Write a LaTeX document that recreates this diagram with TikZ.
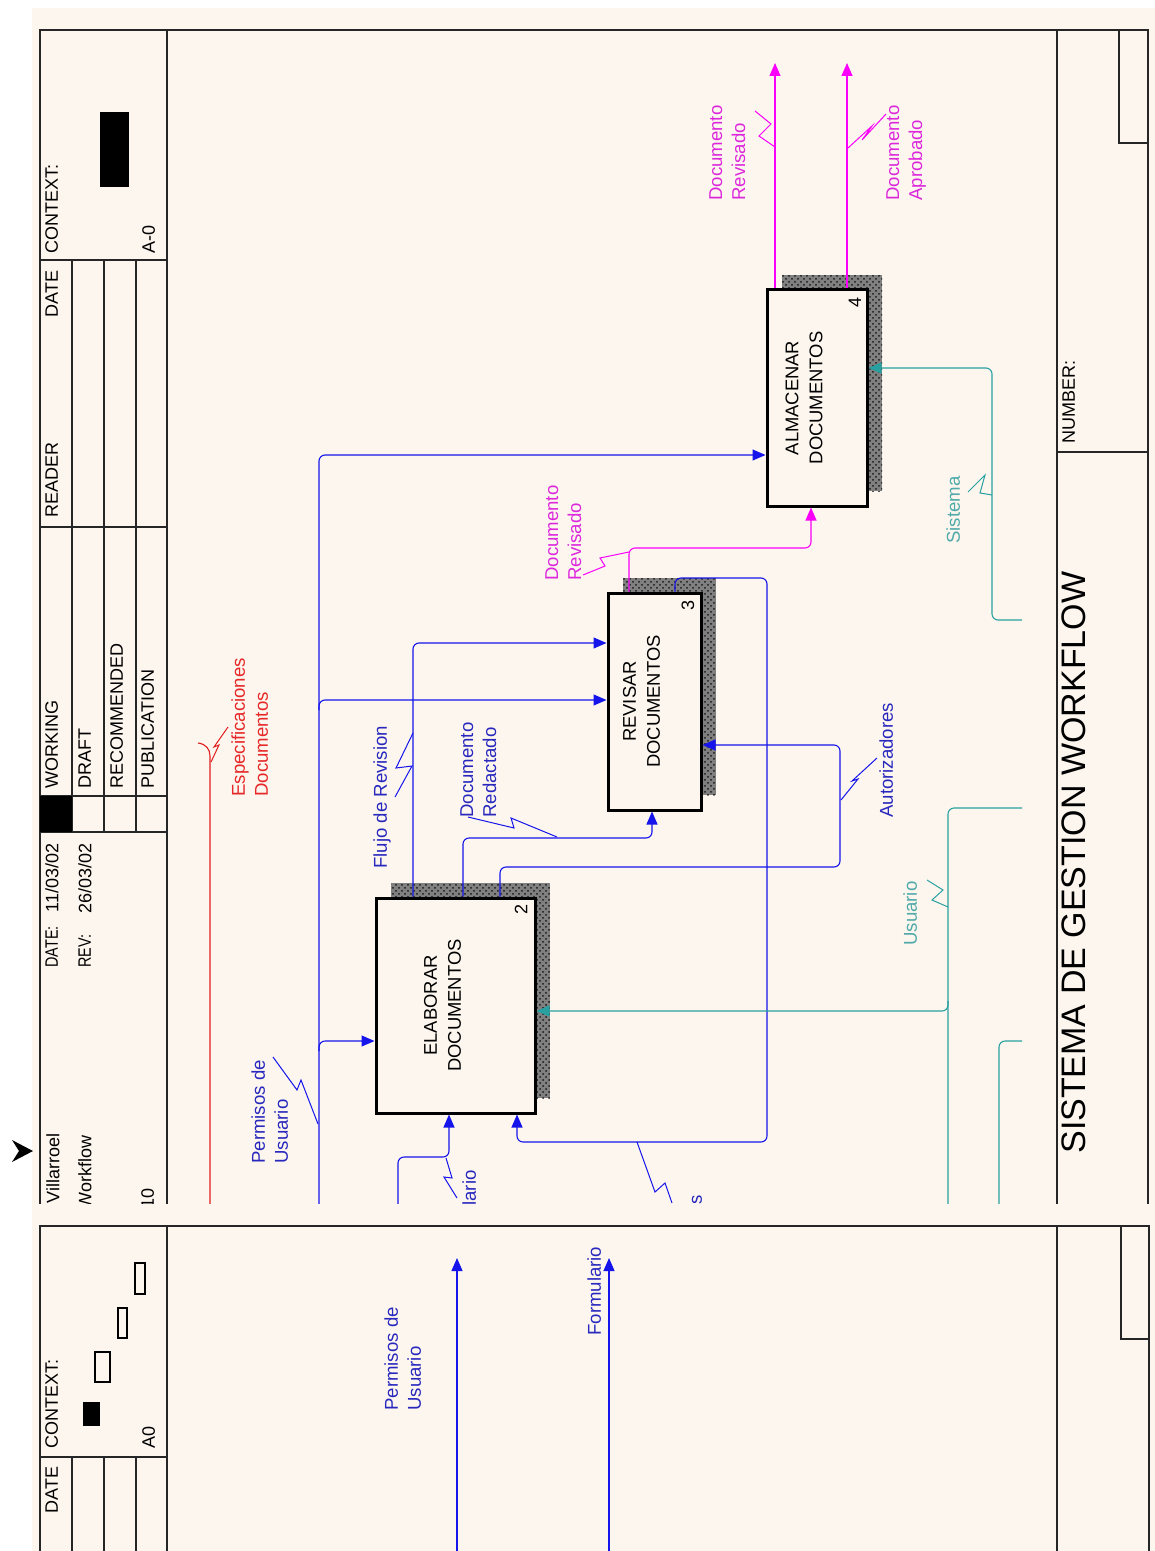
\documentclass[tikz,border=0pt]{standalone}
\usepackage{fontspec}
\setmainfont{Liberation Sans}
\usetikzlibrary{arrows.meta,patterns}

\definecolor{paper}{RGB}{253,246,238}
\definecolor{idblue}{RGB}{20,20,235}
\definecolor{idbluetxt}{RGB}{40,40,190}
\definecolor{idteal}{RGB}{40,160,160}
\definecolor{idtealtxt}{RGB}{80,170,170}
\definecolor{idmag}{RGB}{250,0,250}
\definecolor{idmagtxt}{RGB}{220,40,220}
\definecolor{idred}{RGB}{225,30,30}
\definecolor{idredtxt}{RGB}{230,40,40}

\tikzset{
  frameline/.style={line width=0.7pt, draw=black!85},
  hdr/.style={rotate=90, inner sep=0pt, font=\fontsize{9}{10.5}\selectfont, anchor=north west},
  lbl/.style={rotate=90, inner sep=0pt, font=\fontsize{9.3}{11.5}\selectfont, align=left, anchor=north west},
  procbox/.style={draw=black, line width=1.5pt, fill=paper, inner sep=0pt},
  boxtext/.style={rotate=90, align=center, font=\fontsize{9.2}{12}\selectfont, inner sep=0pt},
  boxnum/.style={rotate=90, font=\fontsize{9}{10}\selectfont, inner sep=0pt},
  flow/.style={line width=0.55pt, rounded corners=3pt},
  arrowed/.style={-{Triangle[length=6.5pt,width=5.5pt]}},
  squig/.style={line width=0.5pt},
  shadowfill/.style={fill=black!50},
  shadowdots/.style={pattern=crosshatch dots, pattern color=black!90},
}
\newcommand{\narrow}[1]{\scalebox{0.8}[1]{#1}}

\begin{document}
\begin{tikzpicture}[x=0.5pt,y=-0.5pt]
\useasboundingbox (0,0) rectangle (1155,1551);
\fill[white] (0,0) rectangle (1155,1551);
\fill[paper] (32,8) rectangle (1155,1551);

% marker in the left margin
\fill[black] (12,1140) -- (33,1151) -- (12,1162) -- (19,1151) -- cycle;

% ================= upper sheet =================
\begin{scope}
\clip (32,8) rectangle (1155,1203);

% form frame
\draw[frameline] (40,1220) -- (40,30) -- (1148,30) -- (1148,1220);
\draw[frameline] (167,30) -- (167,1220);
\draw[frameline] (1057,30) -- (1057,1220);
% header rules
\draw[frameline] (40,260) -- (167,260);
\draw[frameline] (40,527) -- (167,527);
\draw[frameline] (40,796) -- (167,796);
\draw[frameline] (40,832) -- (167,832);
\foreach \cx in {72,104,136} \draw[frameline] (\cx,260) -- (\cx,832);
\fill[black] (40,796) rectangle (72,832);
\fill[black] (100,112) rectangle (129,187);
% footer rules
\draw[frameline] (1057,452) -- (1148,452);
\draw[frameline] (1119,30) -- (1119,143) -- (1148,143);

% header texts
\node[hdr] (hctx) at (45,254) {CONTEXT:};
\node[hdr] (ha0) at (142,254) {A-0};
\node[hdr] (hdate) at (45,318) {DATE};
\node[hdr] (hreader) at (45,518) {READER};
\node[hdr] (hwork) at (45,789) {WORKING};
\node[hdr] (hdraft) at (78,789) {DRAFT};
\node[hdr] (hrec) at (110,789) {RECOMMENDED};
\node[hdr] (hpub) at (141,789) {PUBLICATION};
\node[hdr] (hdl) at (45,968) {\narrow{DATE:}};
\node[hdr, anchor=north east] (hdv) at (45,843) {11/03/02};
\node[hdr] (hrl) at (78,968) {\narrow{REV:}};
\node[hdr, anchor=north east] (hrv) at (78,843) {26/03/02};
\node[hdr, anchor=north east] (hauth) at (46,1133) {Villarroel};
\node[hdr, anchor=north east] (hproj) at (78,1135) {Workflow};
\node[hdr, anchor=north east] (hnotes) at (141,1188) {NOTES:\ \ 1\ \ 2\ \ 3\ \ 4\ \ 5\ \ 6\ \ 7\ \ 8\ \ 9\ \ 10};
\node[hdr] (hnum) at (1062,444) {NUMBER:};
\node[rotate=90, inner sep=0pt, anchor=north west, font=\fontsize{17}{20}\selectfont] (title) at (1061,1154) {SISTEMA DE GESTION WORKFLOW};

% activity shadows
\foreach \a/\b/\c/\d in {391/883/550/1098, 623/578/716/795, 782/275/882/491}{
  \fill[shadowfill] (\a,\b) rectangle (\c,\d);
  \fill[shadowdots] (\a,\b) rectangle (\c,\d);
}

% activities
\node[procbox, minimum width=79.5pt, minimum height=107.5pt] (b2) at (455.5,1005.5) {};
\node[procbox, minimum width=46.5pt, minimum height=108.5pt] (b3) at (654.5,701.5) {};
\node[procbox, minimum width=50pt, minimum height=108pt] (b4) at (817,398) {};
\node[boxtext] (b2t) at ([xshift=-6.5pt]b2.center) {ELABORAR\\DOCUMENTOS};
\node[boxtext] (b3t) at ([xshift=-6.5pt]b3.center) {REVISAR\\DOCUMENTOS};
\node[boxtext] (b4t) at ([xshift=-6.5pt]b4.center) {ALMACENAR\\DOCUMENTOS};
\node[boxnum] (b2n) at (521,909) {2};
\node[boxnum] (b3n) at (688,605) {3};
\node[boxnum] (b4n) at (855,302) {4};

% ---- controls (blue)
\coordinate (puS) at (319,1215);
\coordinate (pu4) at (319,455);
\coordinate (pu2) at (319,1041);
\coordinate (pu3) at (319,700);
\draw[flow, idblue, arrowed] (puS) |- (b4.west |- pu4);
\draw[flow, idblue, arrowed] ([yshift=-5pt]pu2) -- (pu2) -- (b2.west |- pu2);
\draw[flow, idblue, arrowed] ([yshift=-5pt]pu3) -- (pu3) -- (b3.west |- pu3);

\coordinate (fr) at (413,643);
\draw[flow, idblue, arrowed] (b2.north -| fr) |- (b3.west |- fr);

\coordinate (dr) at (463,838);
\coordinate (dr2) at (652,838);
\draw[flow, idblue, arrowed] (b2.north -| dr) -- (dr) -- (dr2) -- (b3.south -| dr2);

\coordinate (au1) at (500,867);
\coordinate (au2) at (840,867);
\coordinate (au3) at (840,745);
\draw[flow, idblue, arrowed] (b2.north -| au1) -- (au1) -- (au2) -- (au3) -- (b3.east |- au3);

\coordinate (fb1) at (675,578);
\coordinate (fb2) at (767,578);
\coordinate (fb3) at (767,1142);
\coordinate (fb4) at (517,1142);
\draw[flow, idblue, arrowed] (b3.north -| fb1) -- (fb1) -- (fb2) -- (fb3) -- (fb4) -- (b2.south -| fb4);

\coordinate (foS) at (398,1215);
\coordinate (fo1) at (398,1157);
\coordinate (fo2) at (449,1157);
\draw[flow, idblue, arrowed] (foS) -- (fo1) -- (fo2) -- (b2.south -| fo2);

% ---- mechanisms (teal)
\coordinate (usE) at (1022,808);
\coordinate (us1) at (948,808);
\coordinate (usS) at (948,1215);
\coordinate (us2) at (948,1011);
\draw[flow, idteal] (usE) -- (us1) -- (usS);
\draw[flow, idteal, arrowed] ([yshift=5pt]us2) -- (us2) -- (b2.east |- us2);

\coordinate (t2E) at (1022,1041);
\coordinate (t2a) at (999,1041);
\coordinate (t2S) at (999,1215);
\draw[flow, idteal] (t2E) -- (t2a) -- (t2S);

\coordinate (siE) at (1022,620);
\coordinate (si1) at (992,620);
\coordinate (si2) at (992,368);
\draw[flow, idteal, arrowed] (siE) -- (si1) -- (si2) -- (b4.east |- si2);

% ---- outputs (magenta)
\coordinate (mr1) at (629,548);
\coordinate (mr2) at (811,548);
\draw[flow, idmag, arrowed] (b3.north -| mr1) -- (mr1) -- (mr2) -- (b4.south -| mr2);
\coordinate (mo1) at (775,63);
\coordinate (mo2) at (847,63);
\draw[flow, idmag, arrowed] (b4.north -| mo1) -- (mo1);
\draw[flow, idmag, arrowed] (b4.north -| mo2) -- (mo2);

% ---- tunnelled input (red)
\coordinate (rdS) at (210,1215);
\coordinate (rdT) at (210,756);
\draw[idred, line width=0.55pt] (rdS) -- (rdT) .. controls (210,749) and (206,744) .. (198,743);

% ---- labels and squiggles
\node[lbl, text=idbluetxt] (lpu) at (251,1164) {Permisos de\\Usuario};
\draw[squig, idblue] (273,1057) -- (297,1090) -- (301,1080) -- (318,1124);

\node[lbl, text=idbluetxt] (lfr) at (373,869) {Flujo de Revision};
\draw[squig, idblue] (395,797) -- (412,766) -- (396,768) -- (413,733);

\node[lbl, text=idbluetxt] (ldr) at (460,818) {Documento\\Redactado};
\draw[squig, idblue] (468,817) -- (514,828) -- (511,818) -- (557,837);

\node[lbl, text=idbluetxt] (lau) at (879,818) {Autorizadores};
\draw[squig, idblue] (841,800) -- (858,779) -- (852,781) -- (877,758);

\node[lbl, text=idbluetxt, anchor=north east] (lfo) at (462,1170) {Formulario};
\draw[squig, idblue] (446,1158) -- (452,1178) -- (444,1177) -- (457,1198);

\node[lbl, text=idbluetxt, anchor=north east] (lco) at (688,1195) {Correcciones};
\draw[squig, idblue] (637,1142) -- (655,1192) -- (665,1183) -- (672,1203);

\node[lbl, text=idtealtxt] (lus) at (903,946) {Usuario};
\draw[squig, idteal] (927,880) -- (943,890) -- (932,900) -- (948,907);

\node[lbl, text=idtealtxt] (lsi) at (946,544) {Sistema};
\draw[squig, idteal] (968,492) -- (985,475) -- (980,493) -- (992,495);

\node[lbl, text=idredtxt] (les) at (231,797) {Especificaciones\\Documentos};
\draw[squig, idred] (211,762) -- (219,745) -- (214,747) -- (228,727);

\node[lbl, text=idmagtxt] (lmr) at (545,581) {Documento\\Revisado};
\draw[squig, idmag] (583,575) -- (605,566) -- (600,558) -- (629,552);

\node[lbl, text=idmagtxt] (lmo1) at (709,201) {Documento\\Revisado};
\draw[squig, idmag] (755,111) -- (771,124) -- (759,136) -- (775,147);

\node[lbl, text=idmagtxt] (lmo2) at (886,201) {Documento\\Aprobado};
\draw[squig, idmag] (848,148) -- (872,126) -- (862,140) -- (886,114);
\end{scope}

% ================= lower sheet =================
\begin{scope}
\clip (32,1203) rectangle (1155,1551);
\draw[frameline] (40,1560) -- (40,1226) -- (1149,1226) -- (1149,1560);
\draw[frameline] (167,1226) -- (167,1560);
\draw[frameline] (1057,1226) -- (1057,1560);
\draw[frameline] (40,1457) -- (167,1457);
\foreach \cx in {72,104,136} \draw[frameline] (\cx,1457) -- (\cx,1560);
\draw[frameline] (1121,1226) -- (1121,1339) -- (1149,1339);

\node[hdr] (lctx) at (45,1449) {CONTEXT:};
\node[hdr] (la0) at (142,1449) {A0};
\node[hdr] (ldate) at (45,1514) {DATE};
\fill[black] (83,1402) rectangle (100,1426);
\draw[line width=0.6pt] (95,1352) rectangle (110,1382);
\draw[line width=0.6pt] (118,1308) rectangle (127,1338);
\draw[line width=0.6pt] (135,1263) rectangle (145,1294);

\coordinate (bpS) at (457,1560);
\coordinate (bpT) at (457,1258);
\draw[flow, idblue, arrowed] (bpS) -- (bpT);
\coordinate (bfS) at (609,1560);
\coordinate (bfT) at (609,1258);
\draw[flow, idblue, arrowed] (bfS) -- (bfT);
\node[lbl, text=idbluetxt] (blpu) at (384,1411) {Permisos de\\Usuario};
\node[lbl, text=idbluetxt] (blfo) at (587,1336) {Formulario};
\end{scope}
\end{tikzpicture}
\end{document}
